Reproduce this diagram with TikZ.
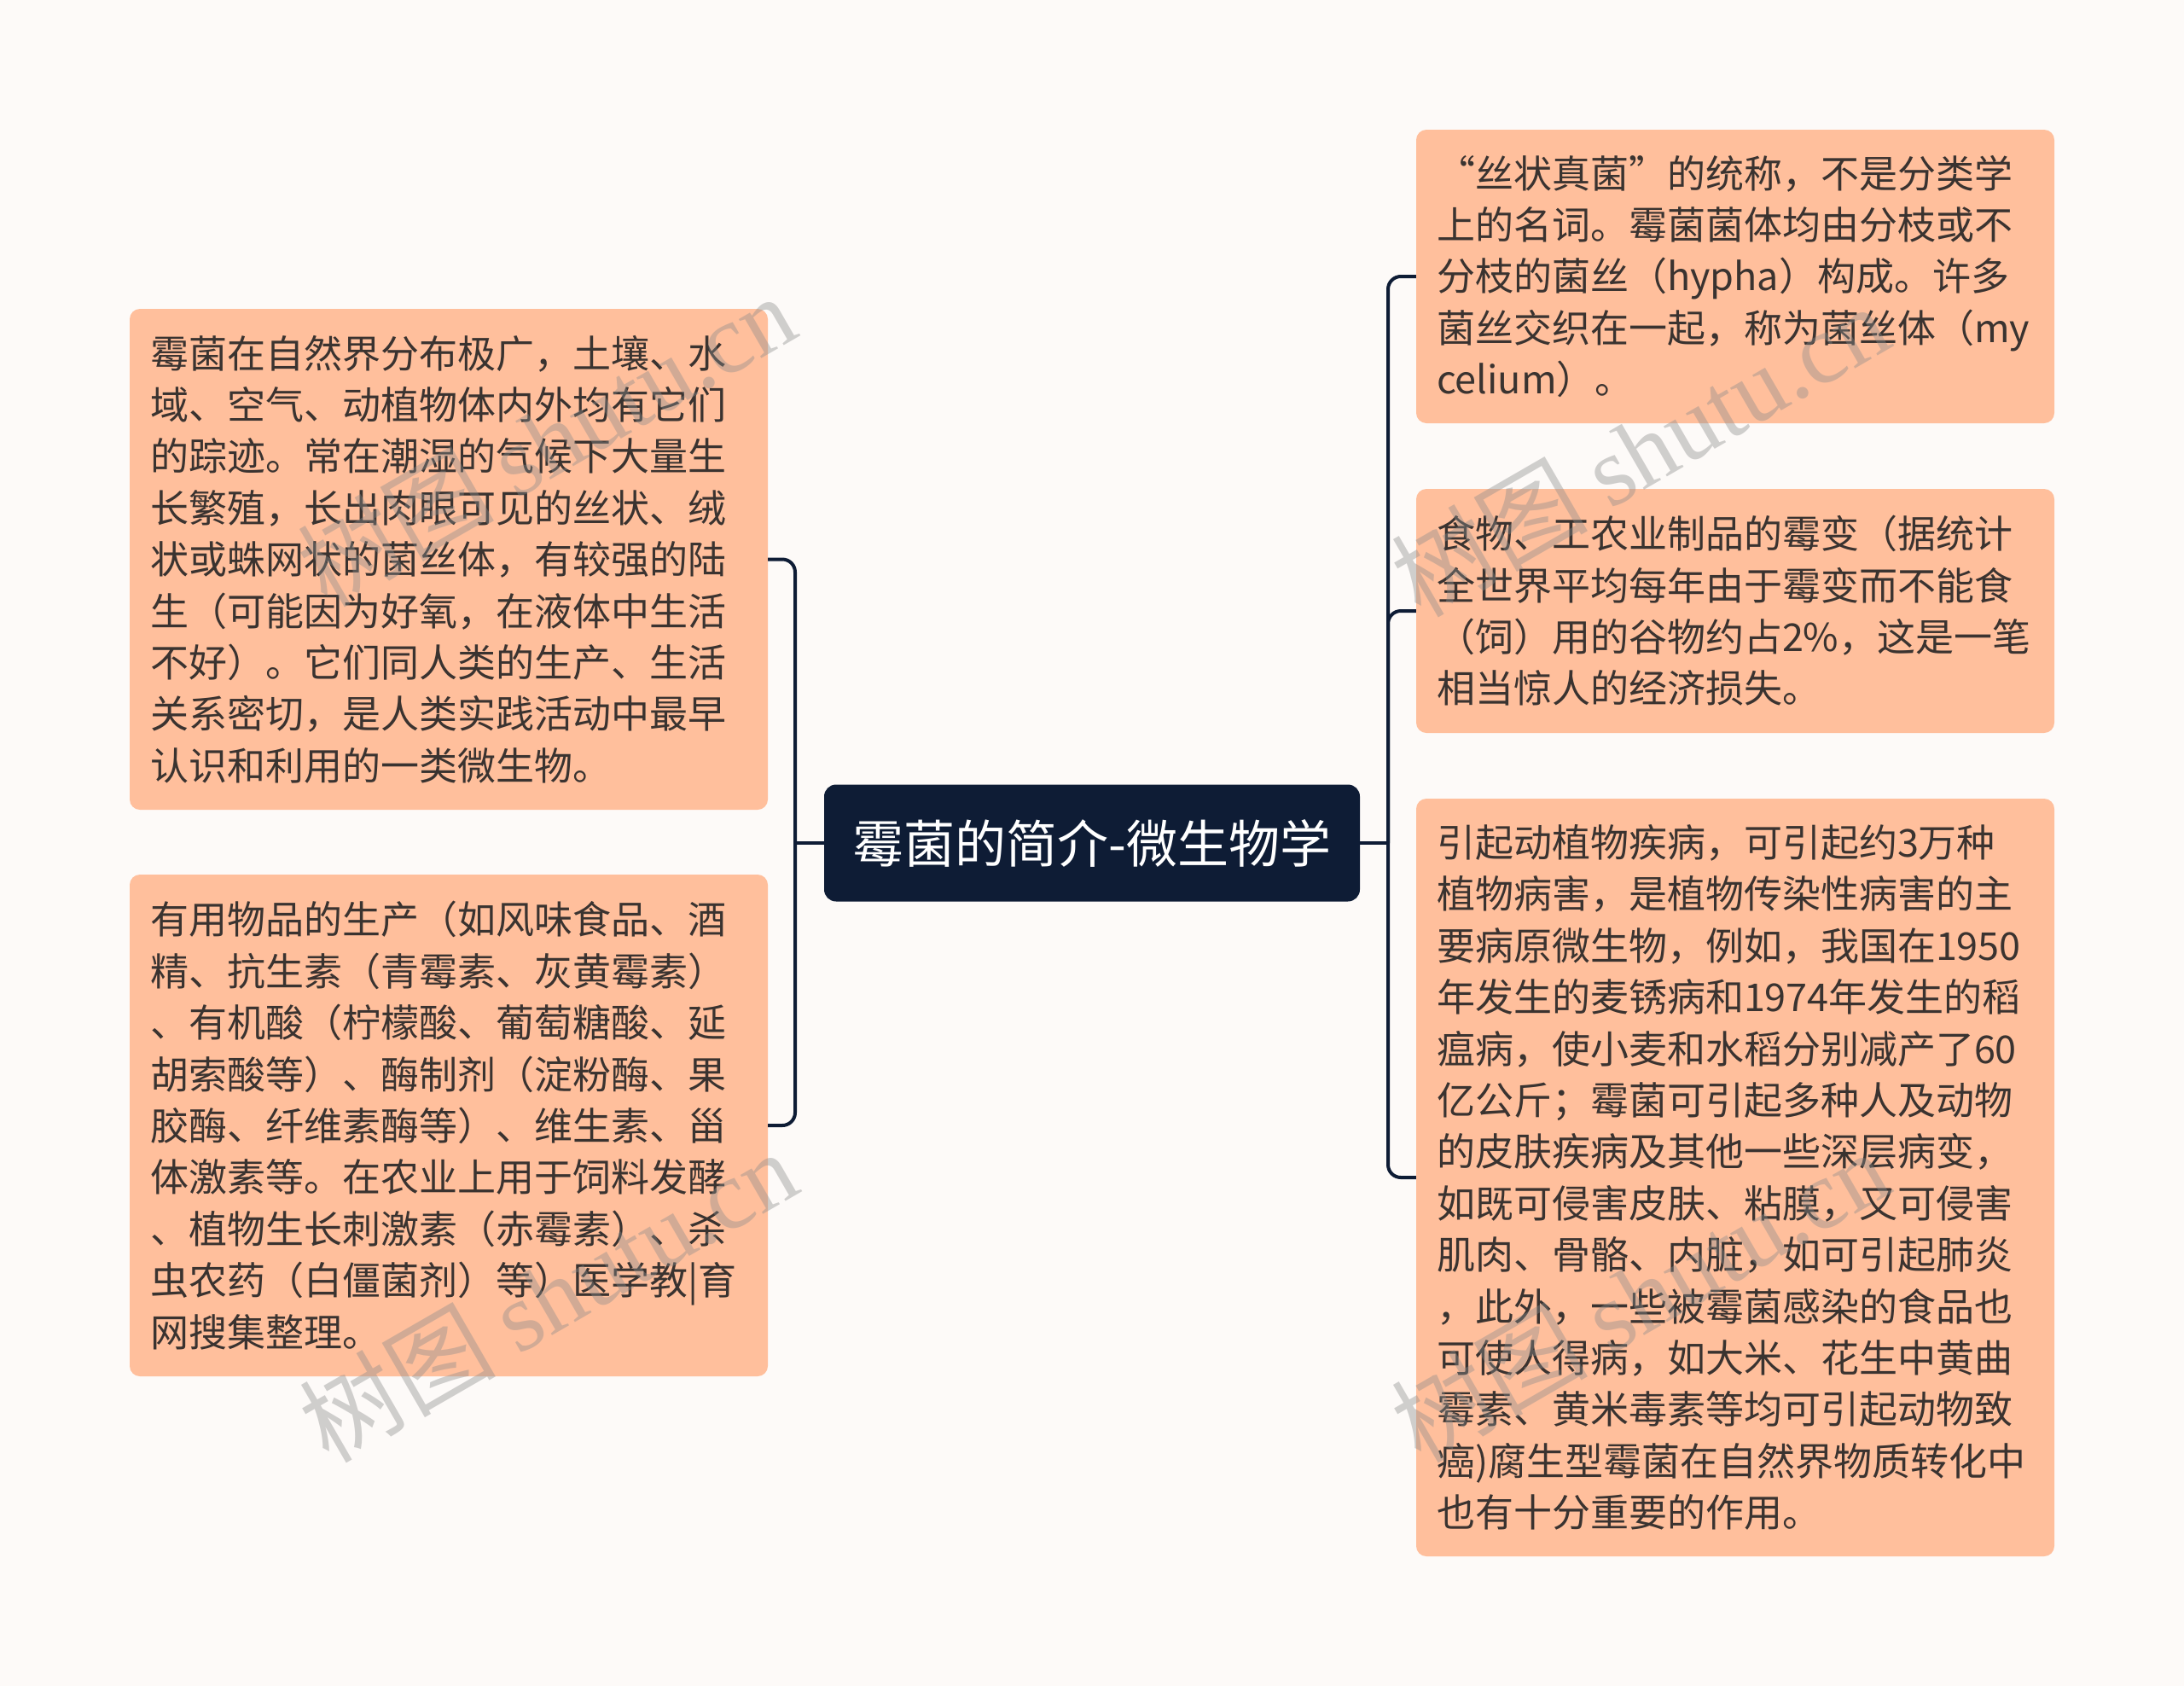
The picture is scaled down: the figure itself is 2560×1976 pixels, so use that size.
\documentclass[tikz,border=0pt]{standalone}
\usepackage{fontspec}
\setmainfont{Noto Sans CJK SC}
\newfontfamily\wmserif{Liberation Serif}
\usetikzlibrary{positioning}
\definecolor{bgc}{HTML}{FDFAF8}
\definecolor{peach}{HTML}{FFBF9C}
\definecolor{navy}{HTML}{0E1C35}
\definecolor{txt}{HTML}{3A3330}
\tikzset{
  leaf/.style={rectangle, rounded corners=12pt, fill=peach, inner sep=0pt,
    minimum width=748pt, text width=700pt, align=left, text=txt,
    font=\fontsize{45}{60.4}\selectfont},
  rootbox/.style={rectangle, rounded corners=14pt, fill=navy, inner sep=0pt,
    minimum width=628pt, minimum height=137pt, text=white,
    font=\fontsize{60}{70}\selectfont},
  link/.style={draw=navy, line width=4pt},
  curvelink/.style={draw=navy, line width=4pt, rounded corners=15pt},
  wm/.style={rotate=30, text=black!45, opacity=0.4, font=\fontsize{115}{120}\selectfont}
}
\begin{document}
\begin{tikzpicture}[x=1pt,y=-1pt]
\fill[bgc] (0,0) rectangle (2560,1976);
\useasboundingbox (0,0) rectangle (2560,1976);

\node[rootbox] (root) at (1280,988) {霉菌的简介-微生物学};

\node[leaf, minimum height=587pt] (l1) at (526,655.5) {霉菌在自然界分布极广，土壤、水\\域、空气、动植物体内外均有它们\\的踪迹。常在潮湿的气候下大量生\\长繁殖，长出肉眼可见的丝状、绒\\状或蛛网状的菌丝体，有较强的陆\\生（可能因为好氧，在液体中生活\\不好）。它们同人类的生产、生活\\关系密切，是人类实践活动中最早\\认识和利用的一类微生物。};

\node[leaf, minimum height=588pt] (l2) at (526,1319) {有用物品的生产（如风味食品、酒\\精、抗生素（青霉素、灰黄霉素）\\、有机酸（柠檬酸、葡萄糖酸、延\\胡索酸等）、酶制剂（淀粉酶、果\\胶酶、纤维素酶等）、维生素、甾\\体激素等。在农业上用于饲料发酵\\、植物生长刺激素（赤霉素）、杀\\虫农药（白僵菌剂）等）医学教|育\\网搜集整理。};

\node[leaf, minimum height=344pt] (r1) at (2034,324) {“丝状真菌”的统称，不是分类学\\上的名词。霉菌菌体均由分枝或不\\分枝的菌丝（hypha）构成。许多\\菌丝交织在一起，称为菌丝体（my\\celium）。};

\node[leaf, minimum height=286pt] (r2) at (2034,716) {食物、工农业制品的霉变（据统计\\全世界平均每年由于霉变而不能食\\（饲）用的谷物约占2\%，这是一笔\\相当惊人的经济损失。};

\node[leaf, minimum height=888pt] (r3) at (2034,1380) {引起动植物疾病，可引起约3万种\\植物病害，是植物传染性病害的主\\要病原微生物，例如，我国在1950\\年发生的麦锈病和1974年发生的稻\\瘟病，使小麦和水稻分别减产了60\\亿公斤；霉菌可引起多种人及动物\\的皮肤疾病及其他一些深层病变，\\如既可侵害皮肤、粘膜，又可侵害\\肌肉、骨骼、内脏，如可引起肺炎\\，此外，一些被霉菌感染的食品也\\可使人得病，如大米、花生中黄曲\\霉素、黄米毒素等均可引起动物致\\癌)腐生型霉菌在自然界物质转化中\\也有十分重要的作用。};

\coordinate (lj) at (932,988);
\coordinate (rj) at (1627,988);
\draw[link] (root.west) -- (lj);
\draw[link] (root.east) -- (rj);
\draw[curvelink] (lj) |- (l1.east);
\draw[curvelink] (lj) |- (l2.east);
\draw[curvelink] (rj) |- (r1.west);
\draw[curvelink] (rj) |- (r2.west);
\draw[curvelink] (rj) |- (r3.west);

\node[wm] (w1) at (640,515) {树图 {\wmserif shutu.cn}};
\node[wm] (w2) at (642,1518) {树图 {\wmserif shutu.cn}};
\node[wm] (w3) at (1922,527) {树图 {\wmserif shutu.cn}};
\node[wm] (w4) at (1922,1518) {树图 {\wmserif shutu.cn}};
\end{tikzpicture}
\end{document}
